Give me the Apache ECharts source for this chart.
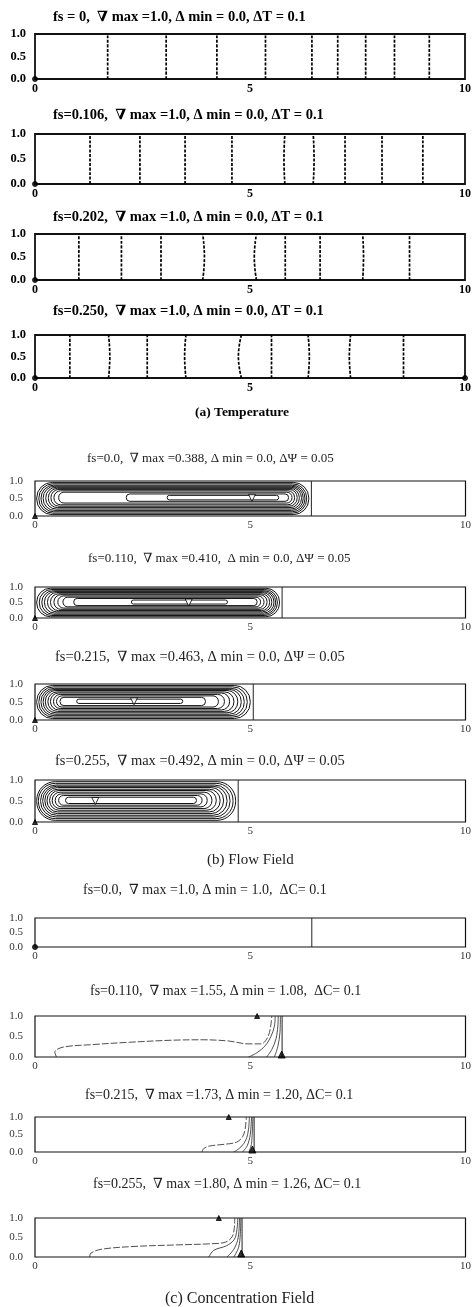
<!DOCTYPE html>
<html><head><meta charset="utf-8">
<script src="https://cdn.jsdelivr.net/npm/echarts@6/dist/echarts.min.js"></script>
<style>html,body{margin:0;padding:0;background:#fff}#c{width:474px;height:1307px}</style>
</head><body><div id="c"></div>
<script>
// ================= DATA =================
const xTickStep = 5, yTickStep = 0.5;
const sectionCaptions = ['(a) Temperature', '(b) Flow Field', '(c) Concentration Field'];

// (a) Temperature: isotherm x-positions (ΔT = 0.1) and slight mid-height bow
const tempTitles = [
  'fs = 0,  ∇ max =1.0, Δ min = 0.0, ΔT = 0.1',
  'fs=0.106,  ∇ max =1.0, Δ min = 0.0, ΔT = 0.1',
  'fs=0.202,  ∇ max =1.0, Δ min = 0.0, ΔT = 0.1',
  'fs=0.250,  ∇ max =1.0, Δ min = 0.0, ΔT = 0.1'
];
const iso_fs0   = [1.69, 3.05, 4.23, 5.36, 6.44, 7.04, 7.69, 8.36, 9.17];
const iso_fs106 = [1.28, 2.44, 3.49, 4.58, 5.81, 6.47, 7.21, 8.07, 9.02];
const iso_fs202 = [1.02, 2.01, 2.93, 3.90, 5.15, 5.82, 6.63, 7.62, 8.71];
const iso_fs250 = [0.81, 1.71, 2.61, 3.51, 4.80, 5.50, 6.35, 7.34, 8.57];
const bow_fs0   = [0, 0, 0, 0, 0, 0, 0, 0, 0];
const bow_fs106 = [0, 0, 0, 0, -0.02, 0.02, 0, 0, 0];
const bow_fs202 = [0, 0, 0, 0.04, -0.05, 0, 0, 0.02, 0];
const bow_fs250 = [0, 0.03, 0, -0.03, -0.07, 0, 0.03, -0.03, 0];

// (b) Flow field: streamline loops [xLeft, xRight, yBottom, yTop], interface x, max location
const flowTitles = [
  'fs=0.0,  ∇ max =0.388, Δ min = 0.0, ΔΨ = 0.05',
  'fs=0.110,  ∇ max =0.410,  Δ min = 0.0, ΔΨ = 0.05',
  'fs=0.215,  ∇ max =0.463, Δ min = 0.0, ΔΨ = 0.05',
  'fs=0.255,  ∇ max =0.492, Δ min = 0.0, ΔΨ = 0.05'
];
const loops_fs0 = [
  [0.04, 6.36, 0.04, 0.96], [0.09, 6.31, 0.08, 0.92], [0.14, 6.27, 0.12, 0.88],
  [0.19, 6.23, 0.16, 0.85], [0.25, 6.19, 0.20, 0.82], [0.31, 6.14, 0.24, 0.79],
  [0.37, 6.09, 0.28, 0.76], [0.44, 6.03, 0.32, 0.72], [0.55, 5.97, 0.37, 0.68],
  [2.12, 5.89, 0.42, 0.63], [3.07, 5.66, 0.46, 0.59]
];
const loops_fs110 = [
  [0.04, 5.68, 0.04, 0.96], [0.10, 5.63, 0.08, 0.92], [0.16, 5.59, 0.12, 0.88],
  [0.22, 5.55, 0.16, 0.85], [0.29, 5.50, 0.20, 0.82], [0.36, 5.45, 0.24, 0.78],
  [0.44, 5.39, 0.28, 0.75], [0.53, 5.32, 0.32, 0.71], [0.65, 5.24, 0.36, 0.67],
  [0.90, 5.16, 0.40, 0.63], [2.24, 4.47, 0.45, 0.58]
];
const loops_fs215 = [
  [0.04, 5.00, 0.04, 0.96], [0.09, 4.93, 0.08, 0.92], [0.14, 4.86, 0.12, 0.88],
  [0.19, 4.79, 0.16, 0.85], [0.24, 4.71, 0.20, 0.82], [0.30, 4.62, 0.24, 0.78],
  [0.36, 4.52, 0.28, 0.75], [0.43, 4.40, 0.32, 0.71], [0.50, 4.26, 0.36, 0.67],
  [0.58, 3.96, 0.40, 0.63], [0.97, 3.43, 0.46, 0.58]
];
const loops_fs255 = [
  [0.04, 4.66, 0.04, 0.96], [0.08, 4.60, 0.08, 0.92], [0.13, 4.53, 0.12, 0.88],
  [0.18, 4.46, 0.16, 0.85], [0.23, 4.38, 0.20, 0.82], [0.28, 4.30, 0.24, 0.78],
  [0.34, 4.21, 0.28, 0.75], [0.40, 4.11, 0.32, 0.71], [0.47, 4.00, 0.36, 0.67],
  [0.55, 3.88, 0.40, 0.63], [0.71, 3.75, 0.44, 0.59]
];
const flowInterface = [6.42, 5.74, 5.07, 4.72];
const flowMax = [[5.04, 0.52], [3.57, 0.50], [2.30, 0.52], [1.40, 0.50]];

// (c) Concentration field: contour polylines, interface x, min/max markers
const concTitles = [
  'fs=0.0,  ∇ max =1.0, Δ min = 1.0,  ΔC= 0.1',
  'fs=0.110,  ∇ max =1.55, Δ min = 1.08,  ΔC= 0.1',
  'fs=0.215,  ∇ max =1.73, Δ min = 1.20, ΔC= 0.1',
  'fs=0.255,  ∇ max =1.80, Δ min = 1.26, ΔC= 0.1'
];
const conc_fs0 = [];
const conc_fs110 = [
  [[0.50,0.0],[0.46,0.12],[0.65,0.24],[1.3,0.30],[2.2,0.36],[3.2,0.41],[3.9,0.42],[4.5,0.39],[4.95,0.32],[5.25,0.32],[5.40,0.47],[5.47,0.72],[5.50,1.0]],
  [[4.96,0.0],[5.15,0.10],[5.35,0.28],[5.48,0.50],[5.56,0.75],[5.58,1.0]],
  [[5.38,0.0],[5.50,0.18],[5.60,0.45],[5.64,0.75],[5.65,1.0]],
  [[5.56,0.0],[5.64,0.25],[5.69,0.60],[5.70,1.0]]
];
const conc_fs215 = [
  [[3.88,0.0],[3.92,0.10],[4.05,0.17],[4.40,0.22],[4.68,0.28],[4.82,0.43],[4.88,0.65],[4.91,1.0]],
  [[4.62,0.0],[4.78,0.14],[4.90,0.35],[4.96,0.65],[4.98,1.0]],
  [[4.82,0.0],[4.93,0.18],[5.00,0.50],[5.03,1.0]],
  [[4.97,0.0],[5.03,0.25],[5.06,1.0]]
];
const conc_fs255 = [
  [[1.27,0.0],[1.30,0.10],[1.55,0.20],[2.3,0.27],[3.3,0.31],[4.1,0.34],[4.42,0.38],[4.58,0.52],[4.63,0.75],[4.64,1.0]],
  [[4.04,0.0],[4.15,0.17],[4.45,0.29],[4.63,0.45],[4.69,0.70],[4.71,1.0]],
  [[4.46,0.0],[4.62,0.20],[4.72,0.50],[4.75,1.0]],
  [[4.62,0.0],[4.73,0.25],[4.77,0.60],[4.78,1.0]]
];
const concInterface = [6.43, 5.74, 5.09, 4.81];
const concMinTop = [null, [5.16, 1.0], [4.50, 1.0], [4.27, 1.0]];
const concMaxBottom = [null, [5.73, 0.06], [5.05, 0.07], [4.79, 0.09]];

// ================= LAYOUT / BUILD =================
const SERIF = '"Liberation Serif", "DejaVu Serif", serif';
const grids = [], xAxes = [], yAxes = [], series = [], titles = [];

function addPanel(top, height, bold, borderW) {
  const i = grids.length;
  const base = {fontFamily: SERIF, fontWeight: bold ? 'bold' : 'normal', color: bold ? '#000' : '#333'};
  grids.push({left: 35, right: 7, top: top, height: height, show: true, borderColor: '#111', borderWidth: borderW, backgroundColor: '#fff'});
  xAxes.push({gridIndex: i, type: 'value', min: 0, max: 10, interval: xTickStep,
    axisLine: {show: false}, axisTick: {show: false}, splitLine: {show: false},
    axisLabel: Object.assign({margin: 4, fontSize: bold ? 12 : 11, formatter: v => String(v)}, base)});
  yAxes.push({gridIndex: i, type: 'value', min: 0, max: 1, interval: yTickStep,
    axisLine: {show: false}, axisTick: {show: false}, splitLine: {show: false},
    axisLabel: Object.assign({margin: bold ? 9 : 12, fontSize: bold ? 12.5 : 11, formatter: v => v.toFixed(1)}, base)});
  return i;
}
function addTitle(text, left, centerY, size, bold) {
  titles.push({text: text, left: left, top: centerY - size * 0.6,
    textStyle: {fontFamily: SERIF, fontSize: size, fontWeight: bold ? 'bold' : 'normal', color: bold ? '#000' : '#222'}});
}
function lineSeries(i, data, width, type, color, smooth) {
  series.push({type: 'line', xAxisIndex: i, yAxisIndex: i, data: data, smooth: smooth,
    symbol: 'none', silent: true, animation: false, z: 3,
    lineStyle: {color: color || '#111', width: width, type: type || 'solid'}});
}
function markerSeries(i, data, symbol, size, rotate, filled) {
  series.push({type: 'scatter', xAxisIndex: i, yAxisIndex: i, data: data, symbol: symbol,
    symbolSize: size, symbolRotate: rotate || 0, silent: true, animation: false, z: 5,
    itemStyle: {color: filled ? '#000' : '#fff', borderColor: '#000', borderWidth: 1}});
}

// ---- Temperature ----
const tempLayout = [[34, 45, 13], [134, 50, 111], [234, 46, 213], [335, 43, 307]];
const tempIso = [iso_fs0, iso_fs106, iso_fs202, iso_fs250];
const tempBow = [bow_fs0, bow_fs106, bow_fs202, bow_fs250];
tempLayout.forEach((L, k) => {
  const i = addPanel(L[0], L[1], true, 1.8);
  addTitle(tempTitles[k], 48, L[2], 14.5, true);
  tempIso[k].forEach((x, j) => {
    lineSeries(i, [[x, 0], [x + tempBow[k][j], 0.5], [x, 1]], 1.7, [3, 1.5], '#000', true);
  });
  markerSeries(i, [[0, 0]].concat(k === 3 ? [[10, 0]] : []), 'circle', 5, 0, true);
});
addTitle(sectionCaptions[0], 190, 409, 13.5, true);

// ---- Flow field ----
const flowLayout = [[481, 35, 455, 82, 13], [587, 31, 555, 83, 13], [684, 36, 653, 50, 14.5], [780, 42, 757, 50, 14.5]];
const flowLoops = [loops_fs0, loops_fs110, loops_fs215, loops_fs255];
flowLayout.forEach((L, k) => {
  const i = addPanel(L[0], L[1], false, 1.2);
  addTitle(flowTitles[k], L[3], L[2], L[4], false);
  series.push({type: 'custom', xAxisIndex: i, yAxisIndex: i, data: flowLoops[k],
    encode: {x: [0, 1], y: [2, 3]}, silent: true, animation: false, z: 3,
    renderItem: function (params, api) {
      const a = api.coord([api.value(0), api.value(3)]);
      const b = api.coord([api.value(1), api.value(2)]);
      const w = b[0] - a[0], h = b[1] - a[1];
      return {type: 'rect', shape: {x: a[0], y: a[1], width: w, height: h, r: Math.min(h * 0.48, w * 0.5)},
        style: {fill: 'none', stroke: '#111', lineWidth: 1.0}};
    }});
  lineSeries(i, [[flowInterface[k], 0], [flowInterface[k], 1]], 1, 'solid', '#222', false);
  markerSeries(i, [flowMax[k]], 'triangle', 7, 180, false);
  markerSeries(i, [[0, 0]], 'triangle', 5, 0, true);
});
addTitle(sectionCaptions[1], 202, 857, 15, false);

// ---- Concentration field ----
const concLayout = [[918, 29, 887, 78, 14], [1016, 41, 988, 85, 14], [1117, 35, 1092, 80, 14], [1218, 39, 1181, 88, 14]];
const concLines = [conc_fs0, conc_fs110, conc_fs215, conc_fs255];
concLayout.forEach((L, k) => {
  const i = addPanel(L[0], L[1], false, 1.2);
  addTitle(concTitles[k], L[3], L[2], L[4], false);
  concLines[k].forEach((pts, j) => {
    lineSeries(i, pts, 0.8, j === 0 ? [7, 2] : 'solid', '#222', 0.35);
  });
  lineSeries(i, [[concInterface[k], 0], [concInterface[k], 1]], 1, 'solid', '#222', false);
  if (concMinTop[k]) markerSeries(i, [concMinTop[k]], 'triangle', 5, 0, true);
  if (concMaxBottom[k]) markerSeries(i, [concMaxBottom[k]], 'triangle', 7, 0, true);
  if (k === 0) markerSeries(i, [[0, 0]], 'circle', 5, 0, true);
});
addTitle(sectionCaptions[2], 160, 1295, 16, false);

const chart = echarts.init(document.getElementById('c'), null, {renderer: 'canvas'});
chart.setOption({
  animation: false,
  backgroundColor: '#fff',
  title: titles,
  grid: grids,
  xAxis: xAxes,
  yAxis: yAxes,
  series: series
});
</script>
</body></html>
